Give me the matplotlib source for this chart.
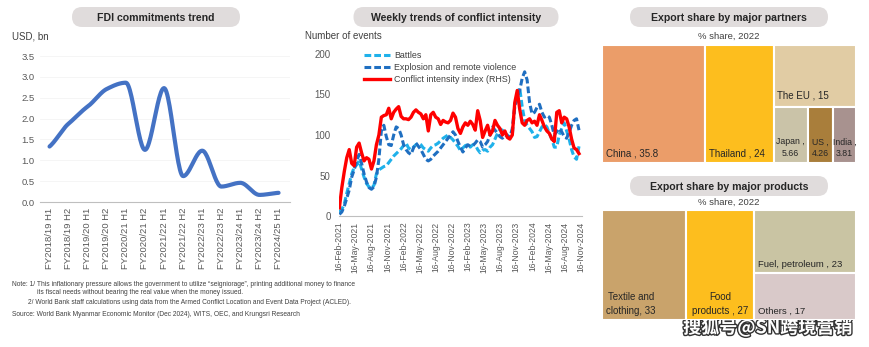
import matplotlib
matplotlib.use('Agg')
import matplotlib.pyplot as plt
import matplotlib.dates as mdates
import matplotlib.patheffects as pe
from matplotlib.patches import FancyBboxPatch, Rectangle
import numpy as np
import pandas as pd

plt.rcParams['font.family'] = ['Liberation Sans', 'DejaVu Sans']

# ---- data ----
fdi_labels = ['FY2018/19 H1', 'FY2018/19 H2', 'FY2019/20 H1', 'FY2019/20 H2',
              'FY2020/21 H1', 'FY2020/21 H2', 'FY2021/22 H1', 'FY2021/22 H2',
              'FY2022/23 H1', 'FY2022/23 H2', 'FY2023/24 H1', 'FY2023/24 H2',
              'FY2024/25 H1']
fdi_values = [1.33, 1.88, 2.29, 2.71, 2.86, 1.25, 2.73, 0.62, 1.23, 0.37, 0.46, 0.17, 0.22]

conflict_start = '2021-02-16'   # bi-weekly samples
battles = [5, 8, 15, 28, 40, 52, 60, 63, 68, 58, 48, 40, 36, 34, 38, 52, 57, 59, 61, 62,
           66, 70, 74, 77, 80, 83, 87, 90, 84, 82, 85, 88, 90, 88, 84, 82, 80, 84, 87, 88,
           90, 93, 96, 98, 100, 97, 94, 90, 86, 81, 84, 87, 88, 85, 88, 88, 82, 78, 81, 82,
           80, 85, 88, 95, 102, 107, 106, 103, 100, 97, 100, 135, 150, 158, 135, 118, 112, 108, 104, 97,
           98, 104, 110, 113, 110, 102, 95, 85, 85, 100, 108, 115, 105, 95, 82, 73, 70, 86]
explosions = [2, 5, 12, 22, 32, 48, 57, 68, 76, 65, 52, 42, 35, 33, 36, 48, 70, 105, 112, 98,
              88, 87, 100, 110, 108, 100, 88, 82, 78, 76, 84, 90, 86, 82, 76, 70, 68, 70, 74, 77,
              80, 84, 88, 92, 96, 100, 104, 100, 92, 85, 79, 84, 88, 86, 87, 90, 94, 92, 85, 88,
              92, 100, 110, 106, 102, 98, 96, 100, 99, 97, 108, 135, 145, 155, 170, 178, 168, 140, 126, 128,
              134, 138, 128, 122, 124, 122, 112, 100, 104, 108, 104, 98, 96, 103, 112, 118, 120, 106]
intensity = [10, 35, 55, 72, 82, 65, 62, 85, 90, 78, 68, 72, 70, 58, 68, 88, 100, 122, 124, 125,
             133, 120, 128, 132, 135, 123, 120, 120, 119, 122, 128, 131, 128, 126, 120, 125, 105, 125, 128, 122,
             120, 113, 118, 116, 115, 118, 127, 122, 108, 102, 110, 115, 112, 117, 113, 106, 130, 118, 97, 105,
             112, 100, 105, 118, 112, 108, 100, 105, 97, 95, 100, 140, 155, 132, 115, 112, 118, 120, 115, 117,
             112, 125, 118, 110, 105, 102, 95, 92, 128, 130, 115, 122, 120, 110, 95, 84, 82, 77]

partners = ['China', 'Thailand', 'The EU', 'Japan', 'US', 'India']
partner_share = [35.8, 24, 15, 5.66, 4.26, 3.81]
partner_colors = ['#EB9D69', '#FDBE1E', '#E1CCA4', '#CAC3A8', '#A97E3B', '#A8928F']

products = ['Textile and\nclothing', 'Food\nproducts ', 'Fuel, petroleum ', 'Others ']
product_share = [33, 27, 23, 17]
product_colors = ['#C9A36B', '#FDBE1E', '#C9C4A3', '#D9C9C9']

W, H = 870, 347
fig = plt.figure(figsize=(W / 100, H / 100), dpi=100)

# overlay in pixel coordinates for pills and notes
ov = fig.add_axes([0, 0, 1, 1], zorder=0)
ov.set_xlim(0, W)
ov.set_ylim(H, 0)
ov.axis('off')


def pill(cx, cy, w, h, text):
    box = FancyBboxPatch((cx - w / 2, cy - h / 2), w, h,
                         boxstyle='round,pad=0,rounding_size=%f' % (h / 2),
                         fc='#E0DCDC', ec='none')
    ov.add_patch(box)
    ov.text(cx, cy + 0.5, text, ha='center', va='center', fontsize=7.6,
            fontweight='bold', color='#262626')


grey = '#595959'

# ---- FDI chart ----
ax1 = fig.add_axes([40 / W, 1 - 202 / H, 250 / W, 146 / H])
xs = np.arange(len(fdi_values))
pts = np.array(fdi_values)
# smoothed line: Hermite curve, flat at local peaks and troughs
tan = np.zeros_like(pts)
tan[1:-1] = 0.4 * (pts[2:] - pts[:-2])
for i in range(1, len(pts) - 1):
    if (pts[i] - pts[i - 1]) * (pts[i + 1] - pts[i]) < 0:
        tan[i] = 0
tan[0] = 0.7 * (pts[1] - pts[0])
tan[-1] = 0.5 * (pts[-1] - pts[-2])
cx_, cy_ = [], []
for i in range(len(pts) - 1):
    t = np.linspace(0, 1, 25)
    h00 = 2 * t ** 3 - 3 * t ** 2 + 1
    h10 = t ** 3 - 2 * t ** 2 + t
    h01 = -2 * t ** 3 + 3 * t ** 2
    h11 = t ** 3 - t ** 2
    y = h00 * pts[i] + h10 * tan[i] + h01 * pts[i + 1] + h11 * tan[i + 1]
    cx_.extend(i + t)
    cy_.extend(y)
ax1.plot(cx_, cy_, color='#4472C4', lw=3, solid_capstyle='round')
ax1.set_ylim(0, 3.5)
ax1.set_xlim(-0.5, 12.6)
ax1.set_yticks(np.arange(0, 3.51, 0.5))
ax1.set_yticklabels(['%.1f' % v for v in np.arange(0, 3.51, 0.5)])
ax1.set_xticks(xs)
ax1.set_xticklabels(fdi_labels, rotation=90)
ax1.tick_params(axis='both', labelsize=6.8, colors=grey, length=0, pad=4)
for s in ['top', 'right', 'left']:
    ax1.spines[s].set_visible(False)
ax1.spines['bottom'].set_color('#BFBFBF')
ax1.grid(axis='y', color='#F4F4F4', lw=0.6)
ax1.set_axisbelow(True)
pill(156, 17, 168, 20, 'FDI commitments trend')
ov.text(12, 36, 'USD, bn', fontsize=7, color='#404040', va='center')

# ---- conflict chart ----
ax2 = fig.add_axes([339 / W, 1 - 216 / H, 243 / W, 162 / H])
dates = pd.date_range(conflict_start, periods=len(intensity), freq='14D')
ax2.plot(dates, battles, color='#1FB1EA', lw=2.2, ls=(0, (2.2, 1.0)), label='Battles')
ax2.plot(dates, explosions, color='#1F6FC1', lw=2.2, ls=(0, (2.2, 1.0)),
         label='Explosion and remote violence')
ax2.plot(dates, intensity, color='#FF0000', lw=2.4, label='Conflict intensity index (RHS)')
ticks = pd.date_range('2021-02-16', '2024-11-16', freq=pd.DateOffset(months=3))
ax2.set_xticks(ticks)
ax2.xaxis.set_major_formatter(mdates.DateFormatter('%d-%b-%Y'))
ax2.set_xlim(pd.Timestamp('2021-02-14'), pd.Timestamp('2024-11-22'))
ax2.set_ylim(0, 200)
ax2.set_yticks([0, 50, 100, 150, 200])
for lab in ax2.get_xticklabels():
    lab.set_rotation(90)
ax2.tick_params(axis='x', labelsize=6.2, colors=grey, length=0, pad=4)
ax2.tick_params(axis='y', labelsize=7, colors=grey, length=0, pad=6)
for s in ['top', 'right', 'left']:
    ax2.spines[s].set_visible(False)
ax2.spines['bottom'].set_color('#BFBFBF')
leg = ax2.legend(loc='upper left', bbox_to_anchor=(0.09, 1.04), frameon=False,
                 fontsize=6.4, handlelength=2.9, handletextpad=0.4, labelspacing=0.35,
                 borderaxespad=0)
for t in leg.get_texts():
    t.set_color('#404040')
pill(456, 17, 205, 20, 'Weekly trends of conflict intensity')
ov.text(305, 36, 'Number of events', fontsize=7, color='#404040', va='center')


# ---- treemaps ----
def treemap(rect, values, names, colors, split, label_sep, centred):
    ax = fig.add_axes(rect)
    total = sum(values)
    ax.set_xlim(0, total)
    ax.set_ylim(0, 1)
    ax.axis('off')
    x0 = 0
    # first two items as full-height columns, rest in the last column
    for i in range(2):
        v = values[i]
        ax.add_patch(Rectangle((x0, 0), v, 1, fc=colors[i], ec='white', lw=1.5))
        lab = names[i] + label_sep + ('%g' % v)
        if centred[i]:
            ax.text(x0 + v / 2, 0.04, lab, ha='center', va='bottom', fontsize=7,
                    color='#262626', linespacing=1.4)
        else:
            ax.text(x0 + 0.016 * total, 0.04, lab, ha='left', va='bottom', fontsize=7,
                    color='#262626', linespacing=1.4, multialignment='center')
        x0 += v
    rest = values[2:]
    colw = sum(rest)
    if not split:
        # two stacked boxes
        y = 1
        for j, v in enumerate(rest):
            h = v / colw
            ax.add_patch(Rectangle((x0, y - h), colw, h, fc=colors[2 + j], ec='white', lw=1.5))
            ax.text(x0 + 0.035 * colw, y - h + 0.04, names[2 + j] + ', %g' % v,
                    ha='left', va='bottom', fontsize=6.8, color='#262626')
            y -= h
    else:
        v = rest[0]
        h = v / colw
        ax.add_patch(Rectangle((x0, 1 - h), colw, h, fc=colors[2], ec='white', lw=1.5))
        ax.text(x0 + 0.04 * colw, 1 - h + 0.05, names[2] + ' , %g' % v,
                ha='left', va='bottom', fontsize=7, color='#262626')
        bottom = rest[1:]
        bx = x0
        for j, bv in enumerate(bottom):
            bw = bv / sum(bottom) * colw
            ax.add_patch(Rectangle((bx, 0), bw, 1 - h, fc=colors[3 + j], ec='white', lw=1.5))
            ax.text(bx + bw / 2, 0.04, names[3 + j] + ' ,\n%g' % bv, ha='center',
                    va='bottom', fontsize=6.3, color='#262626', linespacing=1.4)
            bx += bw
    return ax


treemap([602 / W, 1 - 163 / H, 254 / W, 118 / H], partner_share, partners,
        partner_colors, split=True, label_sep=' , ', centred=[False, False])
pill(729, 17, 198, 20, 'Export share by major partners')
ov.text(729, 36, '% share, 2022', ha='center', va='center', fontsize=6.8, color='#404040')

treemap([602 / W, 1 - 320 / H, 254 / W, 110 / H], product_share, products,
        product_colors, split=False, label_sep=', ', centred=[False, True])
pill(729, 186, 198, 20, 'Export share by major products')
ov.text(729, 202, '% share, 2022', ha='center', va='center', fontsize=6.8, color='#404040')

# ---- notes ----
note_kw = dict(fontsize=4.8, color='#404040', va='center', ha='left')
ov.text(12, 285, 'Note: 1/ This inflationary pressure allows the government to utilize \u201cseigniorage\u201d, '
        'printing additional money to finance', **note_kw)
ov.text(37, 293, 'its fiscal needs without bearing the real value when the money issued.', **note_kw)
ov.text(28, 302, '2/ World Bank staff calculations using data from the Armed Conflict Location '
        'and Event Data Project (ACLED).', **note_kw)
ov.text(12, 314, 'Source: World Bank Myanmar Economic Monitor (Dec 2024), WITS, OEC, and Krungsri Research',
        **note_kw)

# watermark
wm = ov.text(852, 328, '搜狐号@SN跨境营销', ha='right', va='center', fontsize=13,
             fontweight='bold', color='white', family=['Noto Sans CJK SC', 'DejaVu Sans'],
             zorder=10)
wm.set_path_effects([pe.withStroke(linewidth=2, foreground='#333333')])

fig.savefig('out.png', dpi=100)
